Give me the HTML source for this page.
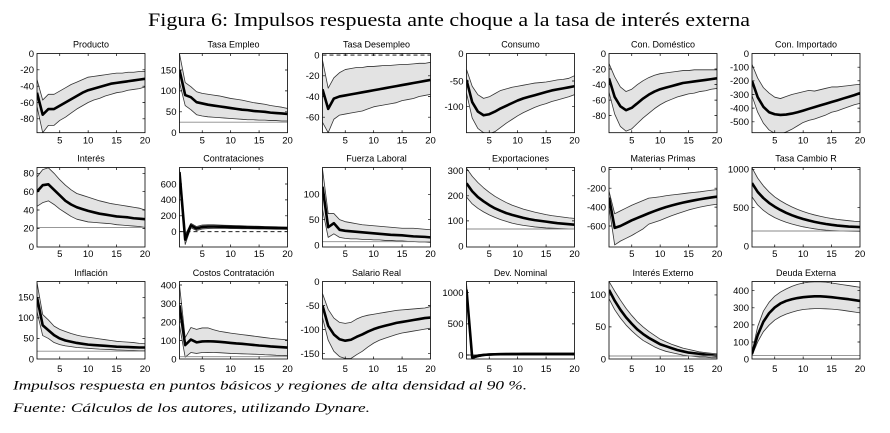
<!DOCTYPE html>
<html>
<head>
<meta charset="utf-8">
<style>
html,body{margin:0;padding:0;background:#fff;}
svg{display:block;}
.band{fill:#e3e3e3;stroke:none}
.edge{fill:none;stroke:#333;stroke-width:0.8;vector-effect:non-scaling-stroke;stroke-linejoin:round}
.mean{fill:none;stroke:#000;stroke-width:2.6;vector-effect:non-scaling-stroke;stroke-linejoin:round}
.box{fill:none;stroke:#000;stroke-width:0.8}
.tk{stroke:#000;stroke-width:0.7;fill:none}
.ref{stroke:#8a8a8a;stroke-width:0.9}
.refd{stroke:#000;stroke-width:0.8;stroke-dasharray:4 3}
text.t{font-family:"Liberation Sans",sans-serif;font-size:9px;text-anchor:middle;fill:#000}
text.y{font-family:"Liberation Sans",sans-serif;font-size:9.5px;text-anchor:end;fill:#000}
text.x{font-family:"Liberation Sans",sans-serif;font-size:9.5px;text-anchor:middle;fill:#000}
</style>
</head>
<body>
<svg width="890" height="433" viewBox="0 0 890 433" xmlns="http://www.w3.org/2000/svg">
<defs>
<path id="xt1" d="M22.74 79.2v-2.5M51.16 79.2v-2.5M79.58 79.2v-2.5M22.74 0v2.5M51.16 0v2.5M79.58 0v2.5"/>
<path id="xt2" d="M22.74 79.5v-2.5M51.16 79.5v-2.5M79.58 79.5v-2.5M22.74 0v2.5M51.16 0v2.5M79.58 0v2.5"/>
<path id="xt3" d="M22.74 77.5v-2.5M51.16 77.5v-2.5M79.58 77.5v-2.5M22.74 0v2.5M51.16 0v2.5M79.58 0v2.5"/>
</defs>
<rect x="0" y="0" width="890" height="433" fill="#fff"/>

<text x="148" y="26" font-family="Liberation Serif, serif" font-size="19" textLength="602" lengthAdjust="spacingAndGlyphs">Figura 6: Impulsos respuesta ante choque a la tasa de interés externa</text>

<!-- ROW 1 -->
<!-- P1 Producto -->
<g transform="translate(37,53.5)">
<svg width="108" height="79.2" viewBox="1 0 19 97" preserveAspectRatio="none">
<polygon class="band" points="1,32 2,57 3,50 4,50 5,46 6,42 7,38 8,35 9,32 10,29 11,28 12,27 13,26 14,25 15,24 16,24 17,23 18,23 19,22 20,22 20,41 19,43 18,44 17,45 16,47 15,48 14,50 13,52 12,55 11,57 10,60 9,64 8,68 7,73 6,78 5,82 4,88 3,88 2,97 1,65"/>
<polyline class="edge" points="1,32 2,57 3,50 4,50 5,46 6,42 7,38 8,35 9,32 10,29 11,28 12,27 13,26 14,25 15,24 16,24 17,23 18,23 19,22 20,22"/>
<polyline class="edge" points="1,65 2,97 3,88 4,88 5,82 6,78 7,73 8,68 9,64 10,60 11,57 12,55 13,52 14,50 15,48 16,47 17,45 18,44 19,43 20,41"/>
<polyline class="mean" points="1,48 2,75 3,68 4,68 5,64 6,60 7,56 8,52 9,48 10,45 11,43 12,41 13,39 14,37 15,36 16,35 17,34 18,33 19,32 20,31"/>
</svg>
<rect class="box" x="0" y="0" width="108" height="79.2"/>
<use href="#xt1" class="tk"/>
<path class="tk" d="M0 16.3h2.5M108 16.3h-2.5M0 32.7h2.5M108 32.7h-2.5M0 49h2.5M108 49h-2.5M0 65.3h2.5M108 65.3h-2.5"/>
<text class="t" x="54" y="-6">Producto</text>
<text class="y" x="-3" y="3.3">0</text>
<text class="y" x="-3" y="19.6">-20</text>
<text class="y" x="-3" y="36">-40</text>
<text class="y" x="-3" y="52.3">-60</text>
<text class="y" x="-3" y="68.6">-80</text>
<text class="x" x="22.74" y="90">5</text><text class="x" x="51.16" y="90">10</text><text class="x" x="79.58" y="90">15</text><text class="x" x="108" y="90">20</text>
</g>

<!-- P2 Tasa Empleo -->
<g transform="translate(179.5,53.5)">
<svg width="108" height="79.2" viewBox="1 -189.5 19 189.5" preserveAspectRatio="none">
<polygon class="band" points="1,-189 2,-120 3,-110 4,-98 5,-94 6,-92 7,-90 8,-88 9,-85 10,-82 11,-80 12,-78 13,-75 14,-72 15,-70 16,-68 17,-65 18,-63 19,-61 20,-58 20,-28 19,-28 18,-29 17,-29 16,-30 15,-30 14,-31 13,-31 12,-32 11,-33 10,-34 9,-35 8,-36 7,-37 6,-38 5,-40 4,-43 3,-55 2,-65 1,-120"/>
<polyline class="edge" points="1,-189 2,-120 3,-110 4,-98 5,-94 6,-92 7,-90 8,-88 9,-85 10,-82 11,-80 12,-78 13,-75 14,-72 15,-70 16,-68 17,-65 18,-63 19,-61 20,-58"/>
<polyline class="edge" points="1,-120 2,-65 3,-55 4,-43 5,-40 6,-38 7,-37 8,-36 9,-35 10,-34 11,-33 12,-32 13,-31 14,-31 15,-30 16,-30 17,-29 18,-29 19,-28 20,-28"/>
<polyline class="mean" points="1,-150 2,-90 3,-85 4,-73 5,-70 6,-67 7,-65 8,-63 9,-61 10,-59 11,-57 12,-55 13,-54 14,-52 15,-51 16,-50 17,-48 18,-47 19,-46 20,-45"/>
</svg>
<line class="ref" x1="0" y1="68.7" x2="108" y2="68.7"/>
<rect class="box" x="0" y="0" width="108" height="79.2"/>
<use href="#xt1" class="tk"/>
<path class="tk" d="M0 16.5h2.5M108 16.5h-2.5M0 37.4h2.5M108 37.4h-2.5M0 58.3h2.5M108 58.3h-2.5"/>
<text class="t" x="54" y="-6">Tasa Empleo</text>
<text class="y" x="-3" y="19.8">150</text>
<text class="y" x="-3" y="40.7">100</text>
<text class="y" x="-3" y="61.6">50</text>
<text class="y" x="-3" y="82.5">0</text>
<text class="x" x="22.74" y="90">5</text><text class="x" x="51.16" y="90">10</text><text class="x" x="79.58" y="90">15</text><text class="x" x="108" y="90">20</text>
</g>

<!-- P3 Tasa Desempleo -->
<g transform="translate(322.5,53.5)">
<svg width="108" height="79.2" viewBox="1 -1.5 19 76.5" preserveAspectRatio="none">
<polygon class="band" points="1,5 2,32 3,22 4,17 5,14 6,13 7,12 8,12 9,11 10,11 11,10.5 12,10 13,10 14,9.5 15,9 16,9 17,8.5 18,8 19,8 20,7 20,38 19,39 18,40 17,42 16,43 15,44 14,46 13,47 12,48 11,49 10,50 9,52 8,54 7,55 6,56 5,57 4,58 3,62 2,75 1,65"/>
<polyline class="edge" points="1,5 2,32 3,22 4,17 5,14 6,13 7,12 8,12 9,11 10,11 11,10.5 12,10 13,10 14,9.5 15,9 16,9 17,8.5 18,8 19,8 20,7"/>
<polyline class="edge" points="1,65 2,75 3,62 4,58 5,57 6,56 7,55 8,54 9,52 10,50 11,49 12,48 13,47 14,46 15,44 16,43 17,42 18,40 19,39 20,38"/>
<polyline class="mean" points="1,33 2,52 3,42 4,40 5,39 6,38 7,37 8,36 9,35 10,34 11,33 12,32 13,31 14,30 15,29 16,28 17,27 18,26 19,25 20,24"/>
</svg>
<line class="refd" x1="0" y1="1.55" x2="108" y2="1.55"/>
<rect class="box" x="0" y="0" width="108" height="79.2"/>
<use href="#xt1" class="tk"/>
<path class="tk" d="M0 22.3h2.5M108 22.3h-2.5M0 43h2.5M108 43h-2.5M0 63.7h2.5M108 63.7h-2.5"/>
<text class="t" x="54" y="-6">Tasa Desempleo</text>
<text class="y" x="-3" y="4.9">0</text>
<text class="y" x="-3" y="25.6">-20</text>
<text class="y" x="-3" y="46.3">-40</text>
<text class="y" x="-3" y="67">-60</text>
<text class="x" x="22.74" y="90">5</text><text class="x" x="51.16" y="90">10</text><text class="x" x="79.58" y="90">15</text><text class="x" x="108" y="90">20</text>
</g>

<!-- P4 Consumo -->
<g transform="translate(466.5,53.5)">
<svg width="108" height="79.2" viewBox="1 0 19 150" preserveAspectRatio="none">
<polygon class="band" points="1,30 2,62 3,78 4,85 5,82 6,76 7,70 8,67 9,64 10,62 11,60 12,58 13,56 14,55 15,54 16,52 17,50 18,49 19,47 20,42 20,78 19,82 18,85 17,88 16,91 15,95 14,98 13,102 12,107 11,112 10,118 9,125 8,132 7,140 6,148 5,152 4,150 3,142 2,122 1,75"/>
<polyline class="edge" points="1,30 2,62 3,78 4,85 5,82 6,76 7,70 8,67 9,64 10,62 11,60 12,58 13,56 14,55 15,54 16,52 17,50 18,49 19,47 20,42"/>
<polyline class="edge" points="1,75 2,122 3,142 4,150 5,152 6,148 7,140 8,132 9,125 10,118 11,112 12,107 13,102 14,98 15,95 16,91 17,88 18,85 19,82 20,78"/>
<polyline class="mean" points="1,50 2,92 3,110 4,117 5,115 6,110 7,104 8,99 9,94 10,89 11,85 12,82 13,79 14,76 15,73 16,70 17,68 18,66 19,64 20,62"/>
</svg>
<rect class="box" x="0" y="0" width="108" height="79.2"/>
<use href="#xt1" class="tk"/>
<path class="tk" d="M0 27.5h2.5M108 27.5h-2.5M0 53.2h2.5M108 53.2h-2.5"/>
<text class="t" x="54" y="-6">Consumo</text>
<text class="y" x="-3" y="3.3">0</text>
<text class="y" x="-3" y="30.8">-50</text>
<text class="y" x="-3" y="56.5">-100</text>
<text class="x" x="22.74" y="90">5</text><text class="x" x="51.16" y="90">10</text><text class="x" x="79.58" y="90">15</text><text class="x" x="108" y="90">20</text>
</g>

<!-- P5 Con. Doméstico -->
<g transform="translate(609,53.5)">
<svg width="108" height="79.2" viewBox="1 0 19 102" preserveAspectRatio="none">
<polygon class="band" points="1,13 2,30 3,43 4,49 5,46 6,40 7,35 8,31 9,28 10,26 11,25 12,24 13,23 14,22 15,22 16,21 17,21 18,21 19,21 20,21 20,45 19,46 18,48 17,49 16,51 15,52 14,54 13,56 12,59 11,62 10,66 9,71 8,77 7,83 6,90 5,97 4,100 3,94 2,78 1,50"/>
<polyline class="edge" points="1,13 2,30 3,43 4,49 5,46 6,40 7,35 8,31 9,28 10,26 11,25 12,24 13,23 14,22 15,22 16,21 17,21 18,21 19,21 20,21"/>
<polyline class="edge" points="1,50 2,78 3,94 4,100 5,97 6,90 7,83 8,77 9,71 10,66 11,62 12,59 13,56 14,54 15,52 16,51 17,49 18,48 19,46 20,45"/>
<polyline class="mean" points="1,32 2,56 3,68 4,73 5,70 6,64 7,58 8,53 9,49 10,46 11,44 12,42 13,40 14,38 15,37 16,36 17,35 18,34 19,33 20,32"/>
</svg>
<rect class="box" x="0" y="0" width="108" height="79.2"/>
<use href="#xt1" class="tk"/>
<path class="tk" d="M0 15.5h2.5M108 15.5h-2.5M0 31.1h2.5M108 31.1h-2.5M0 46.6h2.5M108 46.6h-2.5M0 62.1h2.5M108 62.1h-2.5"/>
<text class="t" x="54" y="-6">Con. Doméstico</text>
<text class="y" x="-3" y="3.3">0</text>
<text class="y" x="-3" y="18.8">-20</text>
<text class="y" x="-3" y="34.4">-40</text>
<text class="y" x="-3" y="49.9">-60</text>
<text class="y" x="-3" y="65.4">-80</text>
<text class="x" x="22.74" y="90">5</text><text class="x" x="51.16" y="90">10</text><text class="x" x="79.58" y="90">15</text><text class="x" x="108" y="90">20</text>
</g>

<!-- P6 Con. Importado -->
<g transform="translate(752,53.5)">
<svg width="108" height="79.2" viewBox="1 0 19 580" preserveAspectRatio="none">
<polygon class="band" points="1,80 2,180 3,250 4,290 5,320 6,330 7,315 8,300 9,290 10,280 11,270 12,275 13,265 14,255 15,245 16,245 17,240 18,235 19,230 20,225 20,365 19,375 18,390 17,405 16,420 15,430 14,450 13,465 12,480 11,490 10,505 9,530 8,555 7,575 6,590 5,585 4,560 3,510 2,430 1,310"/>
<polyline class="edge" points="1,80 2,180 3,250 4,290 5,320 6,330 7,315 8,300 9,290 10,280 11,270 12,275 13,265 14,255 15,245 16,245 17,240 18,235 19,230 20,225"/>
<polyline class="edge" points="1,310 2,430 3,510 4,560 5,585 6,590 7,575 8,555 9,530 10,505 11,490 12,480 13,465 14,450 15,430 16,420 17,405 18,390 19,375 20,365"/>
<polyline class="mean" points="1,200 2,320 3,390 4,430 5,445 6,450 7,447 8,440 9,430 10,418 11,405 12,393 13,380 14,368 15,355 16,343 17,330 18,318 19,305 20,290"/>
</svg>
<rect class="box" x="0" y="0" width="108" height="79.2"/>
<use href="#xt1" class="tk"/>
<path class="tk" d="M0 13.7h2.5M108 13.7h-2.5M0 27.3h2.5M108 27.3h-2.5M0 41h2.5M108 41h-2.5M0 54.6h2.5M108 54.6h-2.5M0 68.3h2.5M108 68.3h-2.5"/>
<text class="t" x="54" y="-6">Con. Importado</text>
<text class="y" x="-3" y="3.3">0</text>
<text class="y" x="-3" y="17">-100</text>
<text class="y" x="-3" y="30.6">-200</text>
<text class="y" x="-3" y="44.3">-300</text>
<text class="y" x="-3" y="57.9">-400</text>
<text class="y" x="-3" y="71.6">-500</text>
<text class="x" x="22.74" y="90">5</text><text class="x" x="51.16" y="90">10</text><text class="x" x="79.58" y="90">15</text><text class="x" x="108" y="90">20</text>
</g>

<!-- ROW 2 -->
<!-- P7 Interés -->
<g transform="translate(37,167.5)">
<svg width="108" height="79.5" viewBox="1 -86.3 19 86.6" preserveAspectRatio="none">
<polygon class="band" points="1,-76 2,-84 3,-86 4,-80 5,-73 6,-67 7,-62 8,-58 9,-56 10,-54 11,-52 12,-50 13,-48.5 14,-47 15,-46 16,-45 17,-44 18,-43 19,-42 20,-40 20,-21 19,-22 18,-22.5 17,-23 16,-23.5 15,-24 14,-25 13,-25.5 12,-26 11,-26.5 10,-27 9,-28.5 8,-30 7,-33 6,-37 5,-41 4,-46 3,-50 2,-48 1,-44"/>
<polyline class="edge" points="1,-76 2,-84 3,-86 4,-80 5,-73 6,-67 7,-62 8,-58 9,-56 10,-54 11,-52 12,-50 13,-48.5 14,-47 15,-46 16,-45 17,-44 18,-43 19,-42 20,-40"/>
<polyline class="edge" points="1,-44 2,-48 3,-50 4,-46 5,-41 6,-37 7,-33 8,-30 9,-28.5 10,-27 11,-26.5 12,-26 13,-25.5 14,-25 15,-24 16,-23.5 17,-23 18,-22.5 19,-22 20,-21"/>
<polyline class="mean" points="1,-60 2,-67 3,-68 4,-62 5,-56 6,-50 7,-46 8,-43 9,-41 10,-39 11,-37.5 12,-36 13,-35 14,-34 15,-33 16,-32.5 17,-32 18,-31 19,-30.5 20,-30"/>
</svg>
<line class="ref" x1="0" y1="59.9" x2="108" y2="59.9"/>
<rect class="box" x="0" y="0" width="108" height="79.5"/>
<use href="#xt2" class="tk"/>
<path class="tk" d="M0 5.8h2.5M108 5.8h-2.5M0 24.2h2.5M108 24.2h-2.5M0 42.5h2.5M108 42.5h-2.5M0 60.9h2.5M108 60.9h-2.5"/>
<text class="t" x="54" y="-6">Interés</text>
<text class="y" x="-3" y="9.1">80</text>
<text class="y" x="-3" y="27.5">60</text>
<text class="y" x="-3" y="45.8">40</text>
<text class="y" x="-3" y="64.2">20</text>
<text class="y" x="-3" y="82.5">0</text>
<text class="x" x="22.74" y="89.5">5</text><text class="x" x="51.16" y="89.5">10</text><text class="x" x="79.58" y="89.5">15</text><text class="x" x="108" y="89.5">20</text>
</g>

<!-- P8 Contrataciones -->
<g transform="translate(179.5,167.5)">
<svg width="108" height="79.5" viewBox="1 -808 19 1000" preserveAspectRatio="none">
<polygon class="band" points="1,-790 2,40 3,-105 4,-65 5,-85 6,-88 7,-88 8,-85 9,-82 10,-80 11,-78 12,-75 13,-72 14,-70 15,-68 16,-66 17,-64 18,-62 19,-60 20,-58 20,-30 19,-31 18,-32 17,-33 16,-34 15,-35 14,-36 13,-38 12,-38 11,-40 10,-40 9,-42 8,-42 7,-42 6,-40 5,-35 4,-15 3,-50 2,160 1,-710"/>
<polyline class="edge" points="1,-790 2,40 3,-105 4,-65 5,-85 6,-88 7,-88 8,-85 9,-82 10,-80 11,-78 12,-75 13,-72 14,-70 15,-68 16,-66 17,-64 18,-62 19,-60 20,-58"/>
<polyline class="edge" points="1,-710 2,160 3,-50 4,-15 5,-35 6,-40 7,-42 8,-42 9,-42 10,-40 11,-40 12,-38 13,-38 14,-36 15,-35 16,-34 17,-33 18,-32 19,-31 20,-30"/>
<polyline class="mean" points="1,-750 2,100 3,-80 4,-40 5,-60 6,-65 7,-65 8,-63 9,-62 10,-60 11,-58 12,-57 13,-55 14,-53 15,-52 16,-50 17,-49 18,-48 19,-46 20,-45"/>
</svg>
<line class="refd" x1="0" y1="64.2" x2="108" y2="64.2"/>
<rect class="box" x="0" y="0" width="108" height="79.5"/>
<use href="#xt2" class="tk"/>
<path class="tk" d="M0 16.5h2.5M108 16.5h-2.5M0 32.4h2.5M108 32.4h-2.5M0 48.3h2.5M108 48.3h-2.5M0 64.2h2.5M108 64.2h-2.5"/>
<text class="t" x="54" y="-6">Contrataciones</text>
<text class="y" x="-3" y="19.8">600</text>
<text class="y" x="-3" y="35.7">400</text>
<text class="y" x="-3" y="51.6">200</text>
<text class="y" x="-3" y="67.5">0</text>
<text class="x" x="22.74" y="89.5">5</text><text class="x" x="51.16" y="89.5">10</text><text class="x" x="79.58" y="89.5">15</text><text class="x" x="108" y="89.5">20</text>
</g>

<!-- P9 Fuerza Laboral -->
<g transform="translate(322.5,167.5)">
<svg width="108" height="79.5" viewBox="1 -153 19 157" preserveAspectRatio="none">
<polygon class="band" points="1,-150 2,-62 3,-62 4,-50 5,-46 6,-44 7,-42 8,-40 9,-39 10,-38 11,-37 12,-36 13,-35 14,-34 15,-33 16,-33 17,-33 18,-32 19,-31 20,-30 20,-5 19,-6 18,-6 17,-7 16,-7 15,-8 14,-8 13,-9 12,-9 11,-10 10,-10 9,-11 8,-11 7,-12 6,-12 5,-13 4,-15 3,-22 2,-15 1,-70"/>
<polyline class="edge" points="1,-150 2,-62 3,-62 4,-50 5,-46 6,-44 7,-42 8,-40 9,-39 10,-38 11,-37 12,-36 13,-35 14,-34 15,-33 16,-33 17,-33 18,-32 19,-31 20,-30"/>
<polyline class="edge" points="1,-70 2,-15 3,-22 4,-15 5,-13 6,-12 7,-12 8,-11 9,-11 10,-10 11,-10 12,-9 13,-9 14,-8 15,-8 16,-7 17,-7 18,-6 19,-6 20,-5"/>
<polyline class="mean" points="1,-115 2,-35 3,-43 4,-30 5,-28 6,-27 7,-26 8,-25 9,-24 10,-23 11,-22 12,-21 13,-20 14,-19.5 15,-19 16,-18 17,-17 18,-16.5 19,-16 20,-15"/>
</svg>
<line class="ref" x1="0" y1="74.2" x2="108" y2="74.2"/>
<rect class="box" x="0" y="0" width="108" height="79.5"/>
<use href="#xt2" class="tk"/>
<path class="tk" d="M0 26.8h2.5M108 26.8h-2.5M0 52.2h2.5M108 52.2h-2.5"/>
<text class="t" x="54" y="-6">Fuerza Laboral</text>
<text class="y" x="-3" y="30.1">100</text>
<text class="y" x="-3" y="55.5">50</text>
<text class="y" x="-3" y="80.8">0</text>
<text class="x" x="22.74" y="89.5">5</text><text class="x" x="51.16" y="89.5">10</text><text class="x" x="79.58" y="89.5">15</text><text class="x" x="108" y="89.5">20</text>
</g>

<!-- P10 Exportaciones -->
<g transform="translate(466.5,167.5)">
<svg width="108" height="79.5" viewBox="1 -312.7 19 316.7" preserveAspectRatio="none">
<polygon class="band" points="1,-310 2,-278 3,-253 4,-232 5,-214 6,-198 7,-185 8,-173 9,-163 10,-155 11,-147 12,-141 13,-135 14,-130 15,-125 16,-121 17,-118 18,-115 19,-112 20,-110 20,-68 19,-68 18,-69 17,-70 16,-71 15,-72 14,-74 13,-76 12,-79 11,-82 10,-86 9,-91 8,-98 7,-105 6,-114 5,-124 4,-136 3,-150 2,-168 1,-195"/>
<polyline class="edge" points="1,-310 2,-278 3,-253 4,-232 5,-214 6,-198 7,-185 8,-173 9,-163 10,-155 11,-147 12,-141 13,-135 14,-130 15,-125 16,-121 17,-118 18,-115 19,-112 20,-110"/>
<polyline class="edge" points="1,-195 2,-168 3,-150 4,-136 5,-124 6,-114 7,-105 8,-98 9,-91 10,-86 11,-82 12,-79 13,-76 14,-74 15,-72 16,-71 17,-70 18,-69 19,-68 20,-68"/>
<polyline class="mean" points="1,-250 2,-218 3,-195 4,-178 5,-163 6,-150 7,-140 8,-131 9,-124 10,-118 11,-112 12,-107 13,-103 14,-100 15,-97 16,-94 17,-91 18,-89 19,-87 20,-85"/>
</svg>
<line class="ref" x1="0" y1="61.5" x2="108" y2="61.5"/>
<rect class="box" x="0" y="0" width="108" height="79.5"/>
<use href="#xt2" class="tk"/>
<path class="tk" d="M0 3.2h2.5M108 3.2h-2.5M0 28.3h2.5M108 28.3h-2.5M0 53.4h2.5M108 53.4h-2.5"/>
<text class="t" x="54" y="-6">Exportaciones</text>
<text class="y" x="-3" y="6.5">300</text>
<text class="y" x="-3" y="31.6">200</text>
<text class="y" x="-3" y="56.7">100</text>
<text class="y" x="-3" y="81.8">0</text>
<text class="x" x="22.74" y="89.5">5</text><text class="x" x="51.16" y="89.5">10</text><text class="x" x="79.58" y="89.5">15</text><text class="x" x="108" y="89.5">20</text>
</g>

<!-- P11 Materias Primas -->
<g transform="translate(609,167.5)">
<svg width="108" height="79.5" viewBox="1 -19 19 841" preserveAspectRatio="none">
<polygon class="band" points="1,230 2,470 3,440 4,410 5,380 6,355 7,330 8,305 9,298 10,290 11,280 12,272 13,265 14,258 15,250 16,244 17,238 18,230 19,222 20,215 20,370 19,378 18,388 17,400 16,415 15,430 14,450 13,470 12,492 11,515 10,540 9,560 8,580 7,630 6,665 5,700 4,730 3,760 2,800 1,400"/>
<polyline class="edge" points="1,230 2,470 3,440 4,410 5,380 6,355 7,330 8,305 9,298 10,290 11,280 12,272 13,265 14,258 15,250 16,244 17,238 18,230 19,222 20,215"/>
<polyline class="edge" points="1,400 2,800 3,760 4,730 5,700 6,665 7,630 8,580 9,560 10,540 11,515 12,492 13,470 14,450 15,430 16,415 17,400 18,388 19,378 20,370"/>
<polyline class="mean" points="1,300 2,620 3,600 4,570 5,540 6,515 7,490 8,465 9,442 10,420 11,400 12,383 13,367 14,353 15,340 16,328 17,317 18,307 19,298 20,290"/>
</svg>
<rect class="box" x="0" y="0" width="108" height="79.5"/>
<use href="#xt2" class="tk"/>
<path class="tk" d="M0 1.8h2.5M108 1.8h-2.5M0 20.7h2.5M108 20.7h-2.5M0 39.6h2.5M108 39.6h-2.5M0 58.5h2.5M108 58.5h-2.5"/>
<text class="t" x="54" y="-6">Materias Primas</text>
<text class="y" x="-3" y="5.1">0</text>
<text class="y" x="-3" y="24">-200</text>
<text class="y" x="-3" y="42.9">-400</text>
<text class="y" x="-3" y="61.8">-600</text>
<text class="x" x="22.74" y="89.5">5</text><text class="x" x="51.16" y="89.5">10</text><text class="x" x="79.58" y="89.5">15</text><text class="x" x="108" y="89.5">20</text>
</g>

<!-- P12 Tasa Cambio R -->
<g transform="translate(752,167.5)">
<svg width="108" height="79.5" viewBox="1 -1023.5 19 1036.5" preserveAspectRatio="none">
<polygon class="band" points="1,-1020 2,-885 3,-785 4,-705 5,-640 6,-590 7,-548 8,-510 9,-478 10,-450 11,-425 12,-405 13,-388 14,-372 15,-358 16,-347 17,-338 18,-330 19,-323 20,-318 20,-190 19,-191 18,-193 17,-195 16,-198 15,-202 14,-207 13,-214 12,-224 11,-236 10,-250 9,-267 8,-287 7,-310 6,-338 5,-370 4,-412 3,-465 2,-535 1,-640"/>
<polyline class="edge" points="1,-1020 2,-885 3,-785 4,-705 5,-640 6,-590 7,-548 8,-510 9,-478 10,-450 11,-425 12,-405 13,-388 14,-372 15,-358 16,-347 17,-338 18,-330 19,-323 20,-318"/>
<polyline class="edge" points="1,-640 2,-535 3,-465 4,-412 5,-370 6,-338 7,-310 8,-287 9,-267 10,-250 11,-236 12,-224 13,-214 14,-207 15,-202 16,-198 17,-195 18,-193 19,-191 20,-190"/>
<polyline class="mean" points="1,-820 2,-705 3,-625 4,-562 5,-512 6,-470 7,-433 8,-402 9,-375 10,-352 11,-332 12,-315 13,-300 14,-287 15,-276 16,-267 17,-260 18,-254 19,-250 20,-247"/>
</svg>
<line class="ref" x1="0" y1="63.5" x2="108" y2="63.5"/>
<rect class="box" x="0" y="0" width="108" height="79.5"/>
<use href="#xt2" class="tk"/>
<path class="tk" d="M0 1.8h2.5M108 1.8h-2.5M0 40.2h2.5M108 40.2h-2.5"/>
<text class="t" x="54" y="-6">Tasa Cambio R</text>
<text class="y" x="-3" y="5.1">1000</text>
<text class="y" x="-3" y="43.5">500</text>
<text class="y" x="-3" y="81.8">0</text>
<text class="x" x="22.74" y="89.5">5</text><text class="x" x="51.16" y="89.5">10</text><text class="x" x="79.58" y="89.5">15</text><text class="x" x="108" y="89.5">20</text>
</g>

<!-- ROW 3 -->
<!-- P13 Inflación -->
<g transform="translate(37,281.5)">
<svg width="108" height="77.5" viewBox="1 -188.5 19 188.5" preserveAspectRatio="none">
<polygon class="band" points="1,-186 2,-108 3,-95 4,-80 5,-72 6,-67 7,-62 8,-58 9,-55 10,-53 11,-51 12,-49 13,-47 14,-45 15,-43 16,-42 17,-41 18,-40 19,-38 20,-37 20,-20 19,-20 18,-20.5 17,-21 16,-21.5 15,-22 14,-23 13,-23.5 12,-24 11,-25 10,-26 9,-27 8,-28 7,-30 6,-32 5,-35 4,-40 3,-50 2,-57 1,-115"/>
<polyline class="edge" points="1,-186 2,-108 3,-95 4,-80 5,-72 6,-67 7,-62 8,-58 9,-55 10,-53 11,-51 12,-49 13,-47 14,-45 15,-43 16,-42 17,-41 18,-40 19,-38 20,-37"/>
<polyline class="edge" points="1,-115 2,-57 3,-50 4,-40 5,-35 6,-32 7,-30 8,-28 9,-27 10,-26 11,-25 12,-24 13,-23.5 14,-23 15,-22 16,-21.5 17,-21 18,-20.5 19,-20 20,-20"/>
<polyline class="mean" points="1,-150 2,-82 3,-70 4,-58 5,-50 6,-45 7,-42 8,-39 9,-37 10,-35 11,-34 12,-33 13,-32 14,-31 15,-30 16,-29.5 17,-29 18,-28.5 19,-28 20,-28"/>
</svg>
<line class="ref" x1="0" y1="69.7" x2="108" y2="69.7"/>
<rect class="box" x="0" y="0" width="108" height="77.5"/>
<use href="#xt3" class="tk"/>
<path class="tk" d="M0 15.8h2.5M108 15.8h-2.5M0 36.4h2.5M108 36.4h-2.5M0 56.9h2.5M108 56.9h-2.5"/>
<text class="t" x="54" y="-5.5">Inflación</text>
<text class="y" x="-3" y="19.1">150</text>
<text class="y" x="-3" y="39.7">100</text>
<text class="y" x="-3" y="60.2">50</text>
<text class="y" x="-3" y="80.8">0</text>
<text class="x" x="22.74" y="90.3">5</text><text class="x" x="51.16" y="90.3">10</text><text class="x" x="79.58" y="90.3">15</text><text class="x" x="108" y="90.3">20</text>
</g>

<!-- P14 Costos Contratación -->
<g transform="translate(179.5,281.5)">
<svg width="108" height="77.5" viewBox="1 -419 19 419" preserveAspectRatio="none">
<polygon class="band" points="1,-400 2,-115 3,-170 4,-160 5,-168 6,-168 7,-158 8,-150 9,-145 10,-140 11,-136 12,-132 13,-128 14,-124 15,-120 16,-116 17,-112 18,-109 19,-106 20,-103 20,-18 19,-19 18,-20 17,-22 16,-23 15,-25 14,-26 13,-27 12,-28 11,-29 10,-30 9,-32 8,-34 7,-35 6,-36 5,-35 4,-30 3,-35 2,-10 1,-180"/>
<polyline class="edge" points="1,-400 2,-115 3,-170 4,-160 5,-168 6,-168 7,-158 8,-150 9,-145 10,-140 11,-136 12,-132 13,-128 14,-124 15,-120 16,-116 17,-112 18,-109 19,-106 20,-103"/>
<polyline class="edge" points="1,-180 2,-10 3,-35 4,-30 5,-35 6,-36 7,-35 8,-34 9,-32 10,-30 11,-29 12,-28 13,-27 14,-26 15,-25 16,-23 17,-22 18,-20 19,-19 20,-18"/>
<polyline class="mean" points="1,-290 2,-75 3,-105 4,-90 5,-95 6,-96 7,-95 8,-93 9,-90 10,-87 11,-84 12,-82 13,-79 14,-76 15,-73 16,-71 17,-68 18,-66 19,-64 20,-62"/>
</svg>
<line class="ref" x1="0" y1="75.2" x2="108" y2="75.2"/>
<rect class="box" x="0" y="0" width="108" height="77.5"/>
<use href="#xt3" class="tk"/>
<path class="tk" d="M0 3.5h2.5M108 3.5h-2.5M0 22h2.5M108 22h-2.5M0 40.5h2.5M108 40.5h-2.5M0 59h2.5M108 59h-2.5"/>
<text class="t" x="54" y="-5.5">Costos Contratación</text>
<text class="y" x="-3" y="6.8">400</text>
<text class="y" x="-3" y="25.3">300</text>
<text class="y" x="-3" y="43.8">200</text>
<text class="y" x="-3" y="62.3">100</text>
<text class="y" x="-3" y="80.8">0</text>
<text class="x" x="22.74" y="90.3">5</text><text class="x" x="51.16" y="90.3">10</text><text class="x" x="79.58" y="90.3">15</text><text class="x" x="108" y="90.3">20</text>
</g>

<!-- P15 Salario Real -->
<g transform="translate(322.5,281.5)">
<svg width="108" height="77.5" viewBox="1 0 19 161" preserveAspectRatio="none">
<polygon class="band" points="1,25 2,58 3,76 4,85 5,87 6,85 7,78 8,73 9,70 10,68 11,66 12,64 13,62 14,60 15,59 16,58 17,57 18,56 19,55 20,52 20,97 19,99 18,101 17,103 16,105 15,107 14,110 13,114 12,118 11,122 10,128 9,136 8,145 7,152 6,160 5,160 4,156 3,145 2,122 1,75"/>
<polyline class="edge" points="1,25 2,58 3,76 4,85 5,87 6,85 7,78 8,73 9,70 10,68 11,66 12,64 13,62 14,60 15,59 16,58 17,57 18,56 19,55 20,52"/>
<polyline class="edge" points="1,75 2,122 3,145 4,156 5,160 6,160 7,152 8,145 9,136 10,128 11,122 12,118 13,114 14,110 15,107 16,105 17,103 18,101 19,99 20,97"/>
<polyline class="mean" points="1,50 2,92 3,110 4,120 5,123 6,121 7,115 8,110 9,104 10,99 11,95 12,92 13,89 14,86 15,84 16,82 17,80 18,78 19,76 20,75"/>
</svg>
<rect class="box" x="0" y="0" width="108" height="77.5"/>
<use href="#xt3" class="tk"/>
<path class="tk" d="M0 24.1h2.5M108 24.1h-2.5M0 48.1h2.5M108 48.1h-2.5M0 72.2h2.5M108 72.2h-2.5"/>
<text class="t" x="54" y="-5.5">Salario Real</text>
<text class="y" x="-3" y="3.3">0</text>
<text class="y" x="-3" y="27.4">-50</text>
<text class="y" x="-3" y="51.4">-100</text>
<text class="y" x="-3" y="75.5">-150</text>
<text class="x" x="22.74" y="90.3">5</text><text class="x" x="51.16" y="90.3">10</text><text class="x" x="79.58" y="90.3">15</text><text class="x" x="108" y="90.3">20</text>
</g>

<!-- P16 Dev. Nominal -->
<g transform="translate(466.5,281.5)">
<svg width="108" height="77.5" viewBox="1 -1180 19 1244" preserveAspectRatio="none">
<polygon class="band" points="1,-1150 2,20 3,-5 4,-15 5,-22 6,-25 7,-27 8,-28 9,-29 10,-29 11,-30 12,-30 13,-30 14,-30 15,-30 16,-30 17,-30 18,-30 19,-30 20,-30 20,-5 19,-5 18,-5 17,-5 16,-5 15,-5 14,-5 13,-5 12,-5 11,-5 10,-4 9,-4 8,-3 7,-2 6,0 5,5 4,12 3,30 2,60 1,-950"/>
<polyline class="edge" points="1,-1150 2,20 3,-5 4,-15 5,-22 6,-25 7,-27 8,-28 9,-29 10,-29 11,-30 12,-30 13,-30 14,-30 15,-30 16,-30 17,-30 18,-30 19,-30 20,-30"/>
<polyline class="edge" points="1,-950 2,60 3,30 4,12 5,5 6,0 7,-2 8,-3 9,-4 10,-4 11,-5 12,-5 13,-5 14,-5 15,-5 16,-5 17,-5 18,-5 19,-5 20,-5"/>
<line class="refd" x1="1" y1="0" x2="20" y2="0" style="vector-effect:non-scaling-stroke;stroke-dasharray:none"/>
<polyline class="mean" points="1,-1050 2,40 3,15 4,0 5,-8 6,-12 7,-14 8,-15 9,-16 10,-16 11,-17 12,-17 13,-17 14,-17 15,-17 16,-17 17,-17 18,-17 19,-17 20,-17"/>
</svg>
<rect class="box" x="0" y="0" width="108" height="77.5"/>
<use href="#xt3" class="tk"/>
<path class="tk" d="M0 11.2h2.5M108 11.2h-2.5M0 42.4h2.5M108 42.4h-2.5M0 73.5h2.5M108 73.5h-2.5"/>
<text class="t" x="54" y="-5.5">Dev. Nominal</text>
<text class="y" x="-3" y="14.5">1000</text>
<text class="y" x="-3" y="45.7">500</text>
<text class="y" x="-3" y="76.8">0</text>
<text class="x" x="22.74" y="90.3">5</text><text class="x" x="51.16" y="90.3">10</text><text class="x" x="79.58" y="90.3">15</text><text class="x" x="108" y="90.3">20</text>
</g>

<!-- P17 Interés Externo -->
<g transform="translate(609,281.5)">
<svg width="108" height="77.5" viewBox="1 -121 19 121" preserveAspectRatio="none">
<polygon class="band" points="1,-121 2,-106 3,-92 4,-79 5,-68 6,-58 7,-50 8,-43 9,-37 10,-31 11,-27 12,-23 13,-20 14,-17 15,-15 16,-13 17,-11 18,-10 19,-9 20,-8 20,-2 19,-2 18,-3 17,-3 16,-4 15,-5 14,-6 13,-8 12,-10 11,-12 10,-15 9,-19 8,-24 7,-29 6,-36 5,-44 4,-53 3,-64 2,-77 1,-94"/>
<polyline class="edge" points="1,-121 2,-106 3,-92 4,-79 5,-68 6,-58 7,-50 8,-43 9,-37 10,-31 11,-27 12,-23 13,-20 14,-17 15,-15 16,-13 17,-11 18,-10 19,-9 20,-8"/>
<polyline class="edge" points="1,-94 2,-77 3,-64 4,-53 5,-44 6,-36 7,-29 8,-24 9,-19 10,-15 11,-12 12,-10 13,-8 14,-6 15,-5 16,-4 17,-3 18,-3 19,-2 20,-2"/>
<polyline class="mean" points="1,-108 2,-91 3,-77 4,-65 5,-55 6,-46 7,-39 8,-33 9,-28 10,-23 11,-20 12,-17 13,-14 14,-12 15,-10 16,-9 17,-8 18,-7 19,-6 20,-5"/>
</svg>
<line class="ref" x1="0" y1="74.5" x2="108" y2="74.5"/>
<rect class="box" x="0" y="0" width="108" height="77.5"/>
<use href="#xt3" class="tk"/>
<path class="tk" d="M0 13.45h2.5M108 13.45h-2.5M0 45.4h2.5M108 45.4h-2.5"/>
<text class="t" x="54" y="-5.5">Interés Externo</text>
<text class="y" x="-3" y="16.7">100</text>
<text class="y" x="-3" y="48.7">50</text>
<text class="y" x="-3" y="80.8">0</text>
<text class="x" x="22.74" y="90.3">5</text><text class="x" x="51.16" y="90.3">10</text><text class="x" x="79.58" y="90.3">15</text><text class="x" x="108" y="90.3">20</text>
</g>

<!-- P18 Deuda Externa -->
<g transform="translate(752,281.5)">
<svg width="108" height="77.5" viewBox="1 -453.8 19 453.8" preserveAspectRatio="none">
<polygon class="band" points="1,-40 2,-190 3,-280 4,-332 5,-368 6,-392 7,-410 8,-425 9,-437 10,-445 11,-450 12,-452 13,-452 14,-450 15,-445 16,-440 17,-435 18,-430 19,-425 20,-420 20,-270 19,-275 18,-280 17,-285 16,-289 15,-292 14,-294 13,-295 12,-295 11,-293 10,-290 9,-283 8,-274 7,-263 6,-248 5,-228 4,-198 3,-160 2,-100 1,-20"/>
<polyline class="edge" points="1,-40 2,-190 3,-280 4,-332 5,-368 6,-392 7,-410 8,-425 9,-437 10,-445 11,-450 12,-452 13,-452 14,-450 15,-445 16,-440 17,-435 18,-430 19,-425 20,-420"/>
<polyline class="edge" points="1,-20 2,-100 3,-160 4,-198 5,-228 6,-248 7,-263 8,-274 9,-283 10,-290 11,-293 12,-295 13,-295 14,-294 15,-292 16,-289 17,-285 18,-280 19,-275 20,-270"/>
<polyline class="mean" points="1,-30 2,-140 3,-218 4,-268 5,-302 6,-325 7,-340 8,-350 9,-357 10,-362 11,-365 12,-367 13,-367 14,-365 15,-362 16,-358 17,-354 18,-350 19,-345 20,-340"/>
</svg>
<line class="ref" x1="0" y1="74.1" x2="108" y2="74.1"/>
<rect class="box" x="0" y="0" width="108" height="77.5"/>
<use href="#xt3" class="tk"/>
<path class="tk" d="M0 9.2h2.5M108 9.2h-2.5M0 26.3h2.5M108 26.3h-2.5M0 43.4h2.5M108 43.4h-2.5M0 60.5h2.5M108 60.5h-2.5"/>
<text class="t" x="54" y="-5.5">Deuda Externa</text>
<text class="y" x="-3" y="12.5">400</text>
<text class="y" x="-3" y="29.6">300</text>
<text class="y" x="-3" y="46.7">200</text>
<text class="y" x="-3" y="63.8">100</text>
<text class="y" x="-3" y="80.8">0</text>
<text class="x" x="22.74" y="90.3">5</text><text class="x" x="51.16" y="90.3">10</text><text class="x" x="79.58" y="90.3">15</text><text class="x" x="108" y="90.3">20</text>
</g>

<!-- Footnotes -->
<text x="13" y="389.5" font-family="Liberation Serif, serif" font-style="italic" font-size="13" textLength="514" lengthAdjust="spacingAndGlyphs">Impulsos respuesta en puntos básicos y regiones de alta densidad al 90 %.</text>
<text x="13" y="412" font-family="Liberation Serif, serif" font-style="italic" font-size="13" textLength="357" lengthAdjust="spacingAndGlyphs">Fuente: Cálculos de los autores, utilizando Dynare.</text>
</svg>
</body>
</html>
